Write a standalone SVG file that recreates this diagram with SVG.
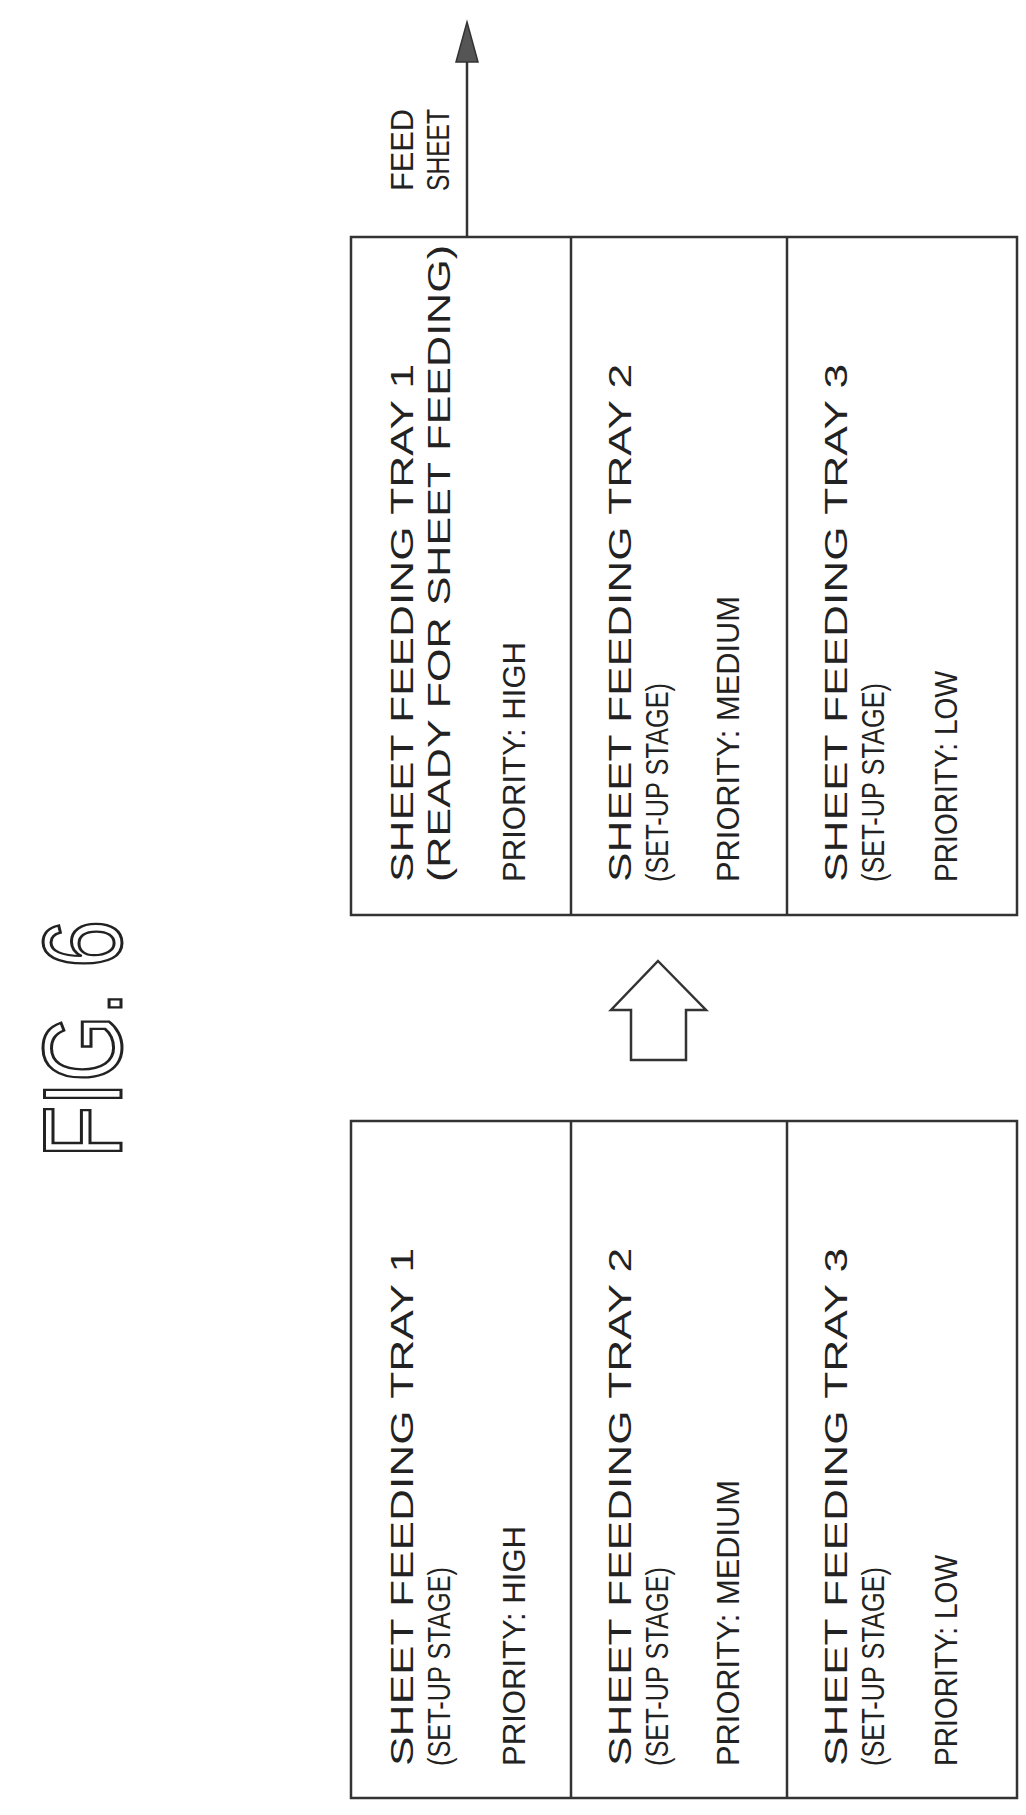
<svg xmlns="http://www.w3.org/2000/svg" width="1026" height="1815" viewBox="0 0 1026 1815">
<style>
.b{fill:none;stroke:#333;stroke-width:2.5}
.t{font-family:"Liberation Sans",Arial,sans-serif;font-size:32px;fill:#222}
.f{font-family:"Liberation Sans",Arial,sans-serif;font-size:112px;fill:#fff;stroke:#222;stroke-width:3}
</style>
<defs><marker id="ah" markerWidth="22" markerHeight="40" refX="20" refY="11" orient="auto" markerUnits="userSpaceOnUse" viewBox="0 0 22 40"><path d="M0,0 L40,11 L0,22 Z" transform="scale(0.55,1)" fill="#555"/></marker></defs>
<text class="f" transform="translate(121,1158) rotate(-90)" textLength="238" lengthAdjust="spacingAndGlyphs">FIG. 6</text>
<g id="connectors">
<line class="b" x1="467" y1="237" x2="467" y2="30"/>
<path d="M467,22 L478,62 L456,62 Z" fill="#555" stroke="#333" stroke-width="1.5"/>
<path class="b" d="M658,961 L706,1010 L686,1010 L686,1060 L631,1060 L631,1010 L611,1010 Z"/>
</g>
<g id="feed"><text class="t" transform="translate(413,191) rotate(-90)" textLength="82" lengthAdjust="spacingAndGlyphs">FEED</text>
<text class="t" transform="translate(449,191) rotate(-90)" textLength="82" lengthAdjust="spacingAndGlyphs">SHEET</text></g>
<g id="after">
<rect class="b" x="351" y="237" width="666" height="678"/>
<line class="b" x1="571" y1="237" x2="571" y2="915"/><line class="b" x1="787" y1="237" x2="787" y2="915"/>
<g id="after-tray1"><text class="t" transform="translate(413,882) rotate(-90)" textLength="518" lengthAdjust="spacingAndGlyphs">SHEET FEEDING TRAY 1</text>
<text class="t" transform="translate(450,882) rotate(-90)" textLength="637" lengthAdjust="spacingAndGlyphs">(READY FOR SHEET FEEDING)</text>
<text class="t" transform="translate(525,882) rotate(-90)" textLength="240" lengthAdjust="spacingAndGlyphs">PRIORITY: HIGH</text></g>
<g id="after-tray2"><text class="t" transform="translate(631,882) rotate(-90)" textLength="518" lengthAdjust="spacingAndGlyphs">SHEET FEEDING TRAY 2</text>
<text class="t" transform="translate(668,882) rotate(-90)" textLength="199" lengthAdjust="spacingAndGlyphs">(SET-UP STAGE)</text>
<text class="t" transform="translate(739,882) rotate(-90)" textLength="286" lengthAdjust="spacingAndGlyphs">PRIORITY: MEDIUM</text></g>
<g id="after-tray3"><text class="t" transform="translate(847,882) rotate(-90)" textLength="518" lengthAdjust="spacingAndGlyphs">SHEET FEEDING TRAY 3</text>
<text class="t" transform="translate(884,882) rotate(-90)" textLength="199" lengthAdjust="spacingAndGlyphs">(SET-UP STAGE)</text>
<text class="t" transform="translate(957,882) rotate(-90)" textLength="211" lengthAdjust="spacingAndGlyphs">PRIORITY: LOW</text></g>
</g>
<g id="before">
<rect class="b" x="351" y="1121" width="666" height="677"/>
<line class="b" x1="571" y1="1121" x2="571" y2="1798"/><line class="b" x1="787" y1="1121" x2="787" y2="1798"/>
<g id="before-tray1"><text class="t" transform="translate(413,1766) rotate(-90)" textLength="518" lengthAdjust="spacingAndGlyphs">SHEET FEEDING TRAY 1</text>
<text class="t" transform="translate(450,1766) rotate(-90)" textLength="199" lengthAdjust="spacingAndGlyphs">(SET-UP STAGE)</text>
<text class="t" transform="translate(525,1766) rotate(-90)" textLength="240" lengthAdjust="spacingAndGlyphs">PRIORITY: HIGH</text></g>
<g id="before-tray2"><text class="t" transform="translate(631,1766) rotate(-90)" textLength="518" lengthAdjust="spacingAndGlyphs">SHEET FEEDING TRAY 2</text>
<text class="t" transform="translate(668,1766) rotate(-90)" textLength="199" lengthAdjust="spacingAndGlyphs">(SET-UP STAGE)</text>
<text class="t" transform="translate(739,1766) rotate(-90)" textLength="286" lengthAdjust="spacingAndGlyphs">PRIORITY: MEDIUM</text></g>
<g id="before-tray3"><text class="t" transform="translate(847,1766) rotate(-90)" textLength="518" lengthAdjust="spacingAndGlyphs">SHEET FEEDING TRAY 3</text>
<text class="t" transform="translate(884,1766) rotate(-90)" textLength="199" lengthAdjust="spacingAndGlyphs">(SET-UP STAGE)</text>
<text class="t" transform="translate(957,1766) rotate(-90)" textLength="211" lengthAdjust="spacingAndGlyphs">PRIORITY: LOW</text></g>
</g>
</svg>
